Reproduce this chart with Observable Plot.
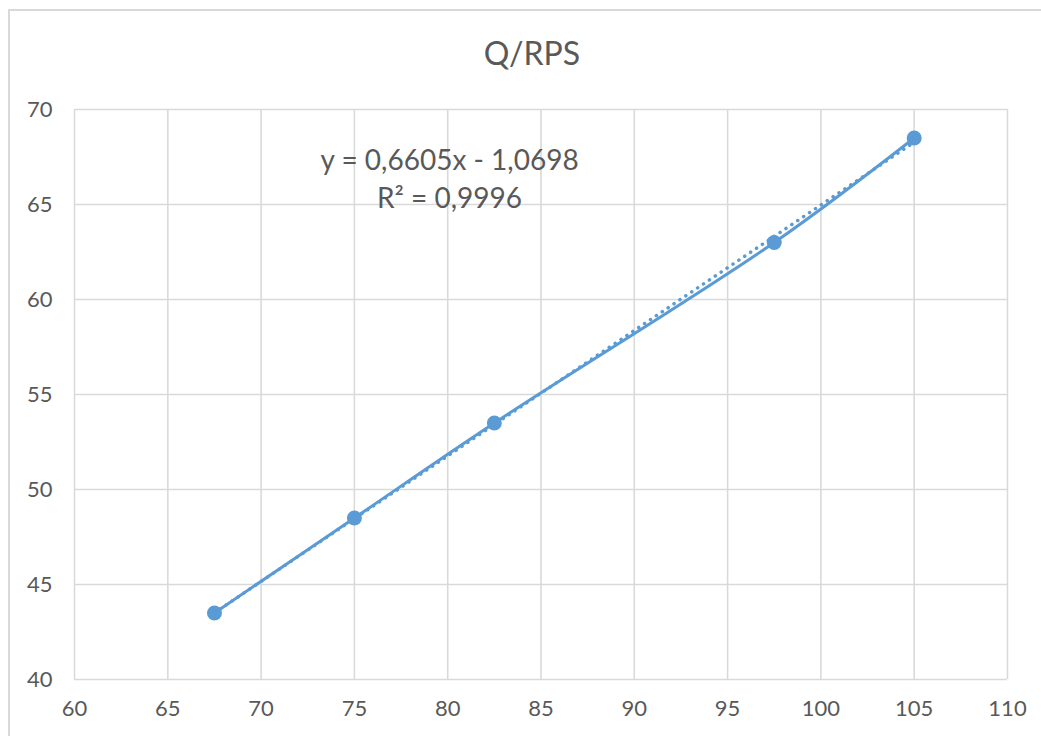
<!DOCTYPE html>
<html>
<head>
<meta charset="utf-8">
<script src="https://cdn.jsdelivr.net/npm/d3@7"></script>
<script src="https://cdn.jsdelivr.net/npm/@observablehq/plot@0.6"></script>
<style>
  html, body { margin: 0; padding: 0; background: #fff; }
  #wrap { position: relative; width: 1041px; height: 736px; overflow: hidden; font-family: Lato, "Open Sans", sans-serif; }
  #border { position: absolute; left: 8px; top: 9px; width: 1060px; height: 760px; border: 2px solid #d9d9d9; box-sizing: border-box; }
  #title { position: absolute; left: 0; width: 1064px; top: 33px; text-align: center; font-size: 32px; color: #595959; }
  #chart { position: absolute; left: 0; top: 0; }
</style>
</head>
<body>
<div id="wrap">
  <div id="border"></div>
  <div id="chart"></div>
  <div id="title">Q/RPS</div>
</div>
<script>
const titleText = "Q/RPS";
const xValues = [67.5, 75, 82.5, 97.5, 105];
const yValues = [43.5, 48.5, 53.5, 63, 68.5];
const xTicks = [60, 65, 70, 75, 80, 85, 90, 95, 100, 105, 110];
const yTicks = [40, 45, 50, 55, 60, 65, 70];
const equationLines = ["y = 0,6605x - 1,0698", "R² = 0,9996"];
const equationX = [80.1, 80.1];
const equationY = [67.3, 65.3];

const points = xValues.map((x, i) => ({x, y: yValues[i]}));
const labels = equationLines.map((t, i) => ({t, x: equationX[i], y: equationY[i]}));

const blue = "#5b9bd5";
const chart = Plot.plot({
  width: 1041,
  height: 736,
  marginLeft: 74,
  marginRight: 34,
  marginTop: 109,
  marginBottom: 57,
  style: { fontFamily: "Lato, 'Open Sans', sans-serif", fontSize: "22px", color: "#595959", background: "transparent" },
  x: { domain: [60, 110], ticks: xTicks, tickSize: 0, tickPadding: 22, label: null, grid: true },
  y: { domain: [40, 70], ticks: yTicks, tickSize: 0, tickPadding: 22, label: null, grid: true },
  marks: [
    Plot.gridX(xTicks, { stroke: "#d9d9d9", strokeOpacity: 1, strokeWidth: 1.5 }),
    Plot.gridY(yTicks, { stroke: "#d9d9d9", strokeOpacity: 1, strokeWidth: 1.5 }),
    Plot.axisX(xTicks, { tickSize: 0, tickPadding: 21, fill: "#595959", fontSize: 22, label: null }),
    Plot.axisY(yTicks, { tickSize: 0, tickPadding: 22, fill: "#595959", fontSize: 22, label: null }),
    Plot.linearRegressionY(points, { x: "x", y: "y", ci: 0, stroke: blue, strokeWidth: 3.5, strokeDasharray: "0.1 7", strokeLinecap: "round" }),
    Plot.line(points, { x: "x", y: "y", curve: "catmull-rom", stroke: blue, strokeWidth: 3 }),
    Plot.dot(points, { x: "x", y: "y", r: 7.5, fill: blue, stroke: "none" }),
    Plot.text(labels, { x: "x", y: "y", text: "t", fill: "#595959", fontSize: 28, textAnchor: "middle" })
  ]
});
document.getElementById("chart").appendChild(chart);
</script>
</body>
</html>
